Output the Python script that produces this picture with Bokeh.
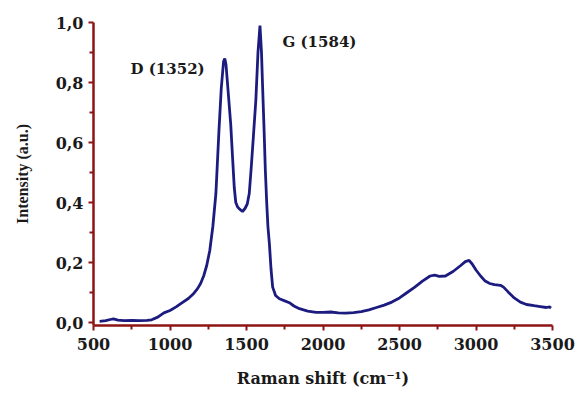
from bokeh.plotting import figure
from bokeh.models import FixedTicker, CustomJSTickFormatter, Label, Range1d
from bokeh.embed import file_html
from bokeh.resources import INLINE

raman_shift = [540, 580, 610, 630, 660, 700, 750, 800, 850, 880, 920, 960, 1000, 1040, 1080,
               1120, 1150, 1180, 1200, 1220, 1240, 1260, 1280, 1300, 1320, 1335, 1350, 1358,
               1366, 1380, 1397, 1410, 1420, 1430, 1442, 1455, 1474, 1490, 1505, 1518, 1530,
               1545, 1561, 1575, 1588, 1598, 1605, 1615, 1623, 1632, 1640, 1650, 1660, 1671,
               1690, 1715, 1750, 1780, 1810, 1846, 1900, 1955, 2000, 2050, 2100, 2150, 2200,
               2250, 2300, 2350, 2400, 2450, 2500, 2550, 2600, 2650, 2700, 2730, 2760, 2800,
               2850, 2900, 2930, 2955, 2975, 3000, 3030, 3060, 3090, 3120, 3160, 3180, 3210,
               3250, 3290, 3330, 3380, 3420, 3460, 3480, 3490]
intensity = [0.004, 0.006, 0.010, 0.012, 0.008, 0.006, 0.007, 0.006, 0.007, 0.009, 0.018,
             0.032, 0.040, 0.052, 0.066, 0.080, 0.094, 0.113, 0.130, 0.155, 0.190, 0.240,
             0.320, 0.430, 0.640, 0.780, 0.870, 0.880, 0.860, 0.770, 0.660, 0.540, 0.450,
             0.400, 0.385, 0.378, 0.370, 0.380, 0.395, 0.430, 0.510, 0.620, 0.740, 0.900,
             0.990, 0.900, 0.790, 0.640, 0.510, 0.400, 0.320, 0.260, 0.180, 0.118, 0.090,
             0.079, 0.072, 0.066, 0.055, 0.046, 0.038, 0.034, 0.034, 0.035, 0.032, 0.031,
             0.033, 0.036, 0.042, 0.050, 0.058, 0.068, 0.082, 0.100, 0.118, 0.138, 0.155,
             0.158, 0.154, 0.155, 0.170, 0.190, 0.203, 0.207, 0.195, 0.175, 0.155, 0.138,
             0.130, 0.126, 0.124, 0.118, 0.102, 0.082, 0.068, 0.060, 0.056, 0.053, 0.050,
             0.052, 0.048]

x_ticks = [500, 1000, 1500, 2000, 2500, 3000, 3500]
x_minor = [750, 1250, 1750, 2250, 2750, 3250]
y_ticks = [0.0, 0.2, 0.4, 0.6, 0.8, 1.0]
y_minor = [0.1, 0.3, 0.5, 0.7, 0.9]

peak_labels = ["D (1352)", "G (1584)"]

FONT = "DejaVu Serif"
YLABEL_FONT = "Liberation Serif"
AXIS_COLOR = "#8e1414"
LINE_COLOR = "#1c1c80"
TEXT_COLOR = "#1a1a1a"

p = figure(width=578, height=397, output_backend="svg", toolbar_location=None,
           x_range=Range1d(500, 3500), y_range=Range1d(-0.01, 1.0),
           min_border_left=93, min_border_right=26, min_border_top=22, min_border_bottom=72)
p.outline_line_color = None
p.grid.visible = False
p.background_fill_color = "white"
p.border_fill_color = "white"

p.line(raman_shift, intensity, line_color=LINE_COLOR, line_width=2.8)

fmt = CustomJSTickFormatter(code="return tick.toFixed(1).replace('.', ',');")

for ax in (p.xaxis[0], p.yaxis[0]):
    ax.axis_line_color = AXIS_COLOR
    ax.axis_line_width = 2.5
    ax.major_tick_line_color = AXIS_COLOR
    ax.minor_tick_line_color = AXIS_COLOR
    ax.major_tick_line_width = 2
    ax.minor_tick_line_width = 2
    ax.major_tick_in = 0
    ax.minor_tick_in = 0
    ax.major_tick_out = 5
    ax.minor_tick_out = 4
    ax.major_label_text_font = FONT
    ax.major_label_text_font_style = "bold"
    ax.major_label_text_font_size = "16px"
    ax.major_label_text_color = TEXT_COLOR
    ax.axis_label_text_font_style = "bold"
    ax.axis_label_text_color = TEXT_COLOR

p.xaxis[0].ticker = FixedTicker(ticks=x_ticks, minor_ticks=x_minor)
p.xaxis[0].major_label_standoff = 7
p.xaxis[0].axis_label = "Raman shift (cm\u207b\u00b9)"
p.xaxis[0].axis_label_text_font = FONT
p.xaxis[0].axis_label_text_font_size = "16px"
p.xaxis[0].axis_label_standoff = 16

p.yaxis[0].ticker = FixedTicker(ticks=y_ticks, minor_ticks=y_minor)
p.yaxis[0].formatter = fmt
p.yaxis[0].major_label_standoff = 5
p.yaxis[0].axis_label = "Intensity (a.u.)"
p.yaxis[0].axis_label_text_font = YLABEL_FONT
p.yaxis[0].axis_label_text_font_size = "16px"
p.yaxis[0].axis_label_standoff = 22

p.add_layout(Label(x=742, y=0.846, text=peak_labels[0], text_font=FONT, text_font_style="bold",
                   text_font_size="15px", text_baseline="middle", text_align="left",
                   text_color=TEXT_COLOR))
p.add_layout(Label(x=1735, y=0.934, text=peak_labels[1], text_font=FONT, text_font_style="bold",
                   text_font_size="15px", text_baseline="middle", text_align="left",
                   text_color=TEXT_COLOR))

open("out.html", "w").write(file_html(p, INLINE))
